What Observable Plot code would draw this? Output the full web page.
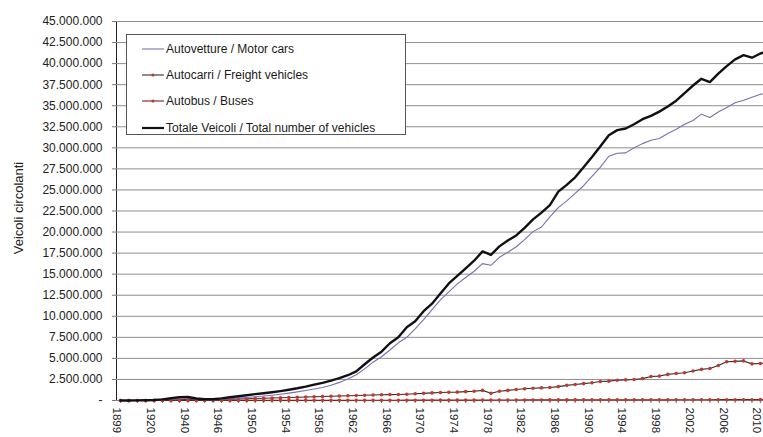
<!DOCTYPE html>
<html>
<head>
<meta charset="utf-8">
<script src="https://cdn.jsdelivr.net/npm/d3@7"></script>
<script src="https://cdn.jsdelivr.net/npm/@observablehq/plot@0.6"></script>
<style>
  html, body { margin: 0; padding: 0; background: #fff; }
  #wrap { position: relative; width: 763px; height: 437px; overflow: hidden; font-family: "Liberation Sans", Arial, sans-serif; }
  #legend { position: absolute; left: 126px; top: 34px; width: 280px; height: 101px; border: 1px solid #555; background: #fff; box-sizing: border-box; }
  .row { position: absolute; left: 15px; height: 16px; display: flex; align-items: center; font-size: 12px; color: #1a1a1a; white-space: nowrap; }
  .row svg { margin-right: 2px; }
</style>
</head>
<body>
<div id="wrap"><div id="chart"></div><div id="legend"></div></div>
<script>
// Categories (years) as shown on the category axis
const years = [1899,1905,1910,1915,1920,1925,1930,1935,1940,1942,1944,1945,
  1946,1947,1948,1949,1950,1951,1952,1953,1954,1955,1956,1957,1958,1959,
  1960,1961,1962,1963,1964,1965,1966,1967,1968,1969,1970,1971,1972,1973,
  1974,1975,1976,1977,1978,1979,1980,1981,1982,1983,1984,1985,1986,1987,
  1988,1989,1990,1991,1992,1993,1994,1995,1996,1997,1998,1999,2000,2001,
  2002,2003,2004,2005,2006,2007,2008,2009,2010,2011];

// Values in millions of vehicles
const autovetture = [0.001,0.005,0.015,0.025,0.04,0.08,0.18,0.27,0.28,0.15,0.08,0.06,
  0.12,0.2,0.28,0.36,0.45,0.53,0.63,0.75,0.88,1.02,1.18,1.36,1.55,1.8,
  2.15,2.55,3.05,3.75,4.55,5.2,6.0,6.85,7.5,8.5,9.6,10.8,11.95,12.9,
  13.85,14.6,15.35,16.25,16.05,17.0,17.6,18.25,19.1,20.05,20.6,21.8,22.9,23.7,
  24.6,25.5,26.6,27.7,29.0,29.35,29.4,30.0,30.5,30.9,31.1,31.7,32.2,32.8,
  33.25,34.0,33.6,34.25,34.8,35.35,35.65,36.0,36.35,36.6];

const autocarri = [0,0.001,0.004,0.008,0.02,0.04,0.06,0.08,0.1,0.08,0.06,0.08,
  0.12,0.15,0.18,0.21,0.24,0.27,0.3,0.33,0.36,0.39,0.42,0.45,0.48,0.51,
  0.54,0.57,0.6,0.63,0.66,0.68,0.7,0.72,0.75,0.8,0.85,0.9,0.95,0.98,
  1.0,1.05,1.1,1.2,0.85,1.1,1.2,1.3,1.4,1.45,1.5,1.55,1.65,1.8,
  1.9,2.0,2.1,2.25,2.3,2.4,2.45,2.5,2.6,2.85,2.9,3.1,3.2,3.3,
  3.5,3.7,3.8,4.15,4.6,4.65,4.7,4.35,4.4,4.45];

const autobus = [0,0,0.001,0.001,0.002,0.003,0.005,0.006,0.008,0.006,0.005,0.008,
  0.01,0.011,0.012,0.013,0.015,0.016,0.017,0.018,0.019,0.02,0.021,0.022,0.023,0.024,
  0.025,0.026,0.027,0.028,0.029,0.03,0.031,0.032,0.033,0.034,0.035,0.037,0.039,0.041,
  0.043,0.045,0.048,0.051,0.054,0.057,0.06,0.062,0.064,0.066,0.068,0.07,0.072,0.073,
  0.074,0.076,0.077,0.078,0.079,0.08,0.081,0.082,0.083,0.084,0.085,0.086,0.087,0.088,
  0.089,0.09,0.092,0.093,0.094,0.095,0.096,0.097,0.099,0.1];

const totale = [0.001,0.006,0.02,0.035,0.065,0.13,0.26,0.4,0.42,0.24,0.15,0.15,
  0.25,0.38,0.5,0.62,0.75,0.86,0.98,1.12,1.28,1.45,1.65,1.88,2.1,2.35,
  2.65,3.0,3.45,4.3,5.1,5.8,6.8,7.5,8.7,9.4,10.6,11.5,12.7,13.9,
  14.8,15.7,16.6,17.7,17.3,18.3,19.0,19.6,20.5,21.5,22.3,23.2,24.8,25.6,
  26.5,27.7,28.9,30.2,31.5,32.1,32.3,32.8,33.4,33.8,34.3,34.9,35.6,36.5,
  37.4,38.2,37.8,38.8,39.7,40.5,41.0,40.7,41.2,41.5];

const yTicks = [0,2.5,5,7.5,10,12.5,15,17.5,20,22.5,25,27.5,30,32.5,35,37.5,40,42.5,45];
const labelYears = [1899,1920,1940,1946,1950,1954,1958,1962,1966,1970,1974,1978,1982,1986,1990,1994,1998,2002,2006,2010];

const seriesNames = ["Autovetture / Motor cars","Autocarri / Freight vehicles","Autobus / Buses","Totale Veicoli / Total number of vehicles"];
const seriesColors = ["#7a6db4","#3a2b2b","#7a1f1f","#111111"];
const seriesWidths = [1.1,1.1,1.2,2.4];

const toRows = (vals) => years.map((yr, i) => ({year: yr, v: vals[i]}));
const rowsCars = toRows(autovetture);
const rowsFreight = toRows(autocarri);
const rowsBus = toRows(autobus);
const rowsTot = toRows(totale);

const fmt = v => v === 0 ? "-" : d3.format(",.0f")(v * 1e6).replace(/,/g, ".");

const chart = Plot.plot({
  width: 763,
  height: 437,
  marginLeft: 116,
  marginRight: 0,
  marginTop: 21,
  marginBottom: 37,
  style: {fontFamily: "'Liberation Sans', Arial, sans-serif", fontSize: "12px", color: "#222", background: "transparent"},
  x: {type: "point", domain: years, range: [120, 768.3], padding: 0, round: false, label: null, line: true,
      tickSize: 3, tickPadding: 4, tickRotate: 90,
      tickFormat: d => labelYears.includes(d) ? String(d) : ""},
  y: {domain: [0, 45], ticks: yTicks, tickSize: 4, tickPadding: 10, line: true,
      tickFormat: fmt, label: null},
  marks: [
    Plot.ruleY(yTicks, {stroke: "#8e8e8e", strokeWidth: 1}),
    Plot.text(["Veicoli circolanti"], {frameAnchor: "left", textAnchor: "middle", rotate: -90, dx: -98, dy: -3, fontSize: 13, fill: "#222"}),
    Plot.line(rowsBus, {x: "year", y: "v", stroke: seriesColors[2], strokeWidth: seriesWidths[2]}),
    Plot.dot(rowsBus, {x: "year", y: "v", r: 1.8, fill: "#c0392b"}),
    Plot.line(rowsFreight, {x: "year", y: "v", stroke: seriesColors[1], strokeWidth: seriesWidths[1]}),
    Plot.dot(rowsFreight, {x: "year", y: "v", r: 1.8, fill: "#c0392b"}),
    Plot.line(rowsCars, {x: "year", y: "v", stroke: seriesColors[0], strokeWidth: seriesWidths[0]}),
    Plot.line(rowsTot, {x: "year", y: "v", stroke: seriesColors[3], strokeWidth: seriesWidths[3]})
  ]
});
document.getElementById("chart").appendChild(chart);

// x tick labels: size and a small leftward shift (local +y after the 90° rotation)
d3.select(chart).selectAll('[aria-label="x-axis"] text, [aria-label="x-axis tick label"] text').each(function() {
  const t = d3.select(this);
  t.attr("font-size", 11.5);
  t.attr("transform", (t.attr("transform") || "") + " translate(0,3.5)");
});
d3.select(chart).selectAll('[aria-label="x-axis"] path, [aria-label="x-axis"] line, [aria-label="y-axis"] path, [aria-label="y-axis"] line, [aria-label="x-axis tick"] path, [aria-label="y-axis tick"] path').attr("stroke", "#777");

// Legend
const legend = document.getElementById("legend");
const rowTops = [6, 32, 58, 85];
seriesNames.forEach((name, i) => {
  const row = document.createElement("div");
  row.className = "row";
  row.style.top = rowTops[i] + "px";
  const marker = (i === 1 || i === 2) ? `<circle cx="11" cy="8" r="1.6" fill="#c0392b"/>` : "";
  row.innerHTML = `<svg width="22" height="16"><line x1="0" x2="22" y1="8" y2="8" stroke="${seriesColors[i]}" stroke-width="${i === 3 ? 2.2 : 1.1}"/>${marker}</svg><span>${name}</span>`;
  legend.appendChild(row);
});
</script>
</body>
</html>
